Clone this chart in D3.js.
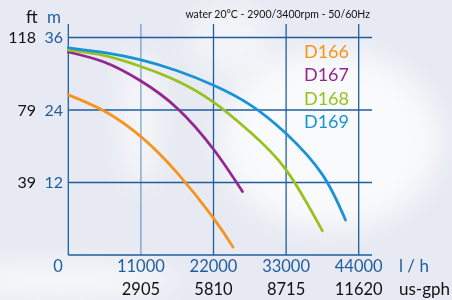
<!DOCTYPE html>
<html>
<head>
<meta charset="utf-8">
<script src="https://cdn.jsdelivr.net/npm/d3@7"></script>
<style>
  html, body { margin: 0; padding: 0; background: #e7eaf2; }
  svg { display: block; font-family: Lato, "Open Sans", sans-serif; }
</style>
</head>
<body>
<div id="chart"></div>
<script>
// flow in l/h, head in m
const models = ["D166", "D167", "D168", "D169"];
const colors = ["#f7941d", "#93278f", "#97c21f", "#1a93d6"];

const flowD166 = [0, 5500, 11000, 16500, 22000, 24960];
const headD166 = [26.5, 23.8, 19.6, 13.6, 6.1, 1.3];
const flowD167 = [0, 5500, 11000, 16500, 22000, 26390];
const headD167 = [33.6, 31.9, 28.8, 24.3, 17.5, 10.5];
const flowD168 = [0, 5500, 11000, 16500, 22000, 27500, 33000, 38500];
const headD168 = [33.9, 33.0, 31.2, 28.8, 25.3, 20.4, 14.1, 4.0];
const flowD169 = [0, 5500, 11000, 16500, 22000, 27500, 33000, 38500, 42000];
const headD169 = [34.3, 33.5, 32.3, 30.5, 28.1, 24.9, 20.1, 13.3, 5.8];

const flows = [flowD166, flowD167, flowD168, flowD169];
const heads = [headD166, headD167, headD168, headD169];

const xTicks = [0, 11000, 22000, 33000, 44000];
const gphLabels = ["", "2905", "5810", "8715", "11620"];
const yTicks = [12, 24, 36];
const ftLabels = ["39", "79", "118"];

const width = 452, height = 300;

const svg = d3.select("#chart").append("svg")
  .attr("width", width)
  .attr("height", height)
  .attr("viewBox", [0, 0, width, height]);

// soft background swirls
const defs = svg.append("defs");
defs.append("filter").attr("id", "blur")
  .append("feGaussianBlur").attr("stdDeviation", 14);
const bg = svg.append("g").attr("filter", "url(#blur)").attr("fill", "#fff");
bg.append("ellipse").attr("cx", 330).attr("cy", 140).attr("rx", 110).attr("ry", 90).attr("opacity", 0.75);
bg.append("ellipse").attr("cx", 140).attr("cy", 120).attr("rx", 20).attr("ry", 70).attr("opacity", 0.6);
bg.append("ellipse").attr("cx", 60).attr("cy", 280).attr("rx", 120).attr("ry", 16).attr("opacity", 0.7);
bg.append("ellipse").attr("cx", 230).attr("cy", 40).attr("rx", 40).attr("ry", 35).attr("opacity", 0.5);

const x = d3.scaleLinear().domain([0, 44000]).range([68.3, 358.7]);
const y = d3.scaleLinear().domain([0, 36]).range([255, 37.5]);

const gridColor = "#1f5d9e";
const grid = svg.append("g").attr("stroke", gridColor).attr("stroke-width", 1.3);

// vertical lines
grid.selectAll("line.v")
  .data(xTicks)
  .join("line")
  .attr("class", "v")
  .attr("x1", (d) => x(d))
  .attr("x2", (d) => x(d))
  .attr("y1", 24)
  .attr("y2", y(0))
  .attr("stroke-opacity", (d) => d === 11000 ? 0.55 : 1);

// horizontal lines
grid.selectAll("line.h")
  .data([0].concat(yTicks))
  .join("line")
  .attr("class", "h")
  .attr("x1", x(0))
  .attr("x2", 372)
  .attr("y1", (d) => y(d))
  .attr("y2", (d) => y(d));

// curves
const line = d3.line()
  .x((d) => x(d[0]))
  .y((d) => y(d[1]))
  .curve(d3.curveNatural);

svg.append("g")
  .selectAll("path")
  .data(models)
  .join("path")
  .attr("fill", "none")
  .attr("stroke", (d, i) => colors[i])
  .attr("stroke-width", 2.8)
  .attr("stroke-linecap", "round")
  .attr("d", (d, i) => line(flows[i].map((f, j) => [f, heads[i][j]])));

// legend
svg.append("g")
  .selectAll("text")
  .data(models)
  .join("text")
  .attr("x", 349)
  .attr("y", (d, i) => 58 + i * 23.3)
  .attr("text-anchor", "end")
  .attr("font-size", 18)
  .attr("fill", (d, i) => colors[i])
  .text((d) => d);

// y labels
const yl = svg.append("g").attr("font-size", 16);
yl.selectAll("text.ft")
  .data(yTicks)
  .join("text")
  .attr("class", "ft")
  .attr("x", 36)
  .attr("y", (d) => y(d) + 5.5)
  .attr("text-anchor", "end")
  .attr("fill", "#111")
  .text((d, i) => ftLabels[i]);
yl.selectAll("text.m")
  .data(yTicks)
  .join("text")
  .attr("class", "m")
  .attr("x", 63)
  .attr("y", (d) => y(d) + 5.5)
  .attr("text-anchor", "end")
  .attr("fill", gridColor)
  .text((d) => d);
yl.append("text").attr("x", 26).attr("y", 23).attr("font-size", 17).attr("fill", "#111").text("ft");
yl.append("text").attr("x", 47).attr("y", 23).attr("font-size", 17).attr("fill", gridColor).text("m");

// x labels
const xl = svg.append("g").attr("font-size", 16.5);
xl.selectAll("text.lh")
  .data(xTicks)
  .join("text")
  .attr("class", "lh")
  .attr("x", (d) => d === 0 ? 58 : x(d))
  .attr("y", 272)
  .attr("text-anchor", "middle")
  .attr("fill", gridColor)
  .text((d) => d);
xl.selectAll("text.gph")
  .data(xTicks)
  .join("text")
  .attr("class", "gph")
  .attr("x", (d) => x(d))
  .attr("y", 295)
  .attr("text-anchor", "middle")
  .attr("fill", "#111")
  .text((d, i) => gphLabels[i]);
xl.append("text").attr("x", 399).attr("y", 272).attr("font-size", 17).attr("fill", gridColor).text("l / h");
xl.append("text").attr("x", 399).attr("y", 295).attr("font-size", 17).attr("fill", "#111").text("us-gph");

// title
svg.append("text")
  .attr("x", 370)
  .attr("y", 18)
  .attr("text-anchor", "end")
  .attr("font-size", 10.5)
  .attr("fill", "#111")
  .text("water 20°C - 2900/3400rpm - 50/60Hz");
</script>
</body>
</html>
